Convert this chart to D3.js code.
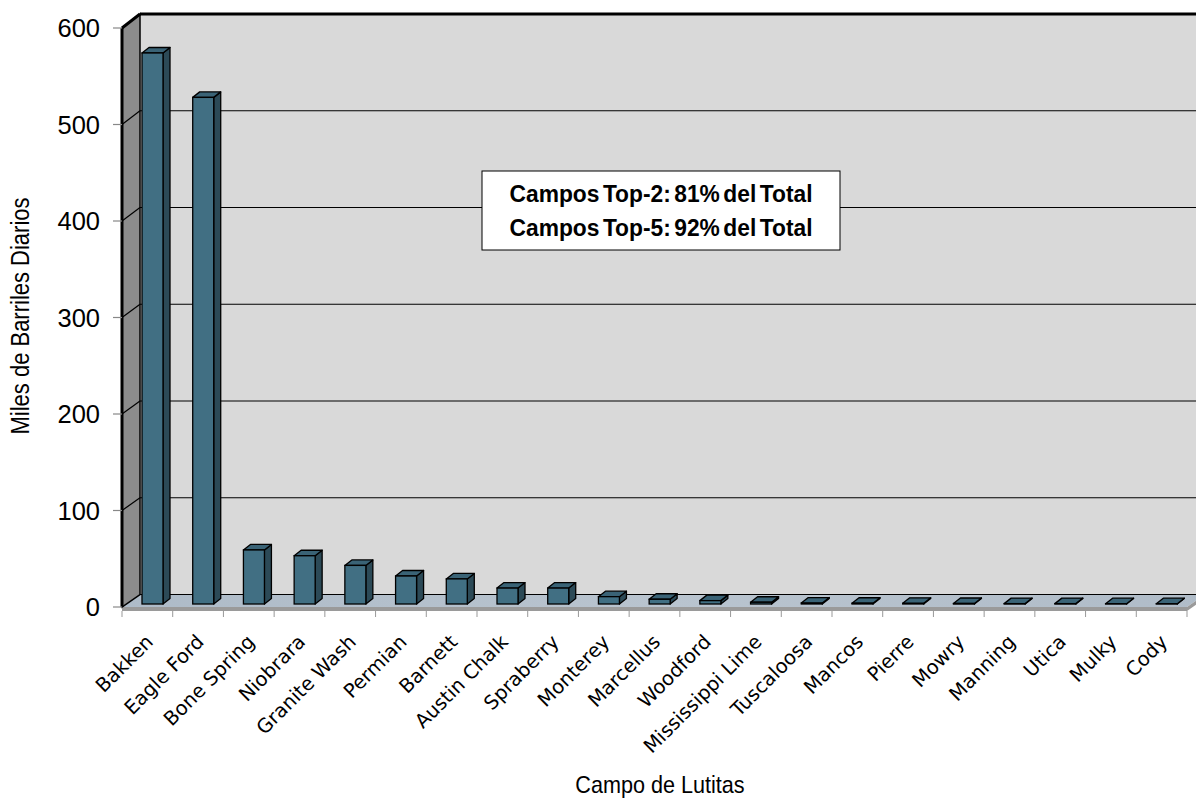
<!DOCTYPE html>
<html>
<head>
<meta charset="utf-8">
<script src="https://cdn.jsdelivr.net/npm/d3@7"></script>
<style>
  html, body { margin: 0; padding: 0; background: #fff; }
  svg { display: block; }
  .narrow { font-family: "Liberation Sans Narrow", "Arial Narrow", "Liberation Sans", sans-serif; }
</style>
</head>
<body>
<svg id="chart" width="1196" height="799"></svg>
<script>
// Shale oil fields, production in thousand barrels per day
const fields = ["Bakken", "Eagle Ford", "Bone Spring", "Niobrara", "Granite Wash", "Permian",
  "Barnett", "Austin Chalk", "Spraberry", "Monterey", "Marcellus", "Woodford",
  "Mississippi Lime", "Tuscaloosa", "Mancos", "Pierre", "Mowry", "Manning", "Utica", "Mulky", "Cody"];
const production = [571, 525, 56, 50, 40, 29, 26, 16.5, 16.5, 7.6, 4.9, 3.5,
  1.8, 1.0, 0.8, 0.7, 0.5, 0.4, 0.4, 0.3, 0.3];
const yTicks = [0, 100, 200, 300, 400, 500, 600];
const noteLines = ["Campos Top-2: 81% del Total", "Campos Top-5: 92% del Total"];
const yTitle = "Miles de Barriles Diarios";
const xTitle = "Campo de Lutitas";

const svg = d3.select("#chart");

// 3D box geometry: front plane and the depth offset of the back wall
const front = { left: 122, right: 1187, top: 28, bottom: 607 };
const depth = { dx: 18, dy: -12.5 };
const bar = { inset: 20, width: 21, dx: 7, dy: -5.5, base: 604 };

const x = d3.scaleBand().domain(fields).range([front.left, front.right]).padding(0);
const yFront = d3.scaleLinear().domain([0, 600]).range([front.bottom, front.top]);
const yBack = d3.scaleLinear().domain([0, 600]).range([front.bottom + depth.dy, 14]);
const yBar = d3.scaleLinear().domain([0, 600]).range([bar.base, bar.base - (front.bottom - front.top)]);

const backLeft = front.left + depth.dx;
const backRight = front.right + depth.dx;
const pts = a => a.map(p => p.join(",")).join(" ");

// back wall
svg.append("rect")
  .attr("x", backLeft).attr("y", yBack(600))
  .attr("width", backRight - backLeft).attr("height", yBack(0) - yBack(600))
  .attr("fill", "#d9d9d9");

// back wall gridlines
svg.append("g").selectAll("line").data(yTicks.filter(d => d > 0 && d < 600)).join("line")
  .attr("x1", backLeft).attr("x2", backRight)
  .attr("y1", d => yBack(d)).attr("y2", d => yBack(d))
  .attr("stroke", "#000").attr("stroke-width", 1.2);

// back wall top edge
svg.append("line")
  .attr("x1", backLeft).attr("x2", backRight)
  .attr("y1", yBack(600)).attr("y2", yBack(600))
  .attr("stroke", "#000").attr("stroke-width", 3);

// floor
const defs = svg.append("defs");
const grad = defs.append("linearGradient").attr("id", "floorGrad")
  .attr("x1", 0).attr("x2", 1).attr("y1", 0).attr("y2", 0);
grad.append("stop").attr("offset", "0%").attr("stop-color", "#aebbc8");
grad.append("stop").attr("offset", "50%").attr("stop-color", "#b9c4cf");
grad.append("stop").attr("offset", "100%").attr("stop-color", "#b0bcc8");
svg.append("polygon")
  .attr("points", pts([[front.left, front.bottom], [front.right, front.bottom],
    [backRight, yBack(0)], [backLeft, yBack(0)]]))
  .attr("fill", "url(#floorGrad)");
svg.append("line")
  .attr("x1", backLeft).attr("x2", backRight)
  .attr("y1", yBack(0)).attr("y2", yBack(0))
  .attr("stroke", "#000").attr("stroke-width", 1.2);
// floor front thickness
svg.append("polygon")
  .attr("points", pts([[front.left, front.bottom], [front.right, front.bottom],
    [backRight, yBack(0)], [backRight, yBack(0) + 4], [front.right, front.bottom + 4],
    [front.left, front.bottom + 4]]))
  .attr("fill", "#9a9a9a");

// x tick marks under the floor
svg.append("g").selectAll("line").data(d3.range(fields.length + 1)).join("line")
  .attr("x1", i => front.left + i * x.bandwidth()).attr("x2", i => front.left + i * x.bandwidth())
  .attr("y1", front.bottom + 4).attr("y2", front.bottom + 10)
  .attr("stroke", "#999").attr("stroke-width", 1);

// left side wall
svg.append("polygon")
  .attr("points", pts([[front.left, yFront(600)], [backLeft, yBack(600)],
    [backLeft, yBack(0)], [front.left, yFront(0)]]))
  .attr("fill", "#8c8c8c").attr("stroke", "#000").attr("stroke-width", 1.5);
svg.append("g").selectAll("line").data(yTicks.filter(d => d > 0 && d < 600)).join("line")
  .attr("x1", front.left).attr("x2", backLeft)
  .attr("y1", d => yFront(d)).attr("y2", d => yBack(d))
  .attr("stroke", "#000").attr("stroke-width", 1.2);
svg.append("line")
  .attr("x1", front.left).attr("x2", front.left)
  .attr("y1", yFront(600)).attr("y2", yFront(0))
  .attr("stroke", "#000").attr("stroke-width", 3);
svg.append("line")
  .attr("x1", front.left).attr("x2", backLeft)
  .attr("y1", yFront(600)).attr("y2", yBack(600))
  .attr("stroke", "#000").attr("stroke-width", 3);

// y axis ticks and labels
const yAxis = svg.append("g");
yAxis.selectAll("line").data(yTicks).join("line")
  .attr("x1", front.left - 9).attr("x2", front.left)
  .attr("y1", d => yFront(d)).attr("y2", d => yFront(d))
  .attr("stroke", "#888").attr("stroke-width", 1.2);
yAxis.selectAll("text").data(yTicks).join("text")
  .attr("x", 100).attr("y", d => yFront(d))
  .attr("text-anchor", "end").attr("dominant-baseline", "central")
  .attr("font-family", "Liberation Sans, Arial, sans-serif").attr("font-size", 25.5)
  .attr("fill", "#000")
  .text(d => d);

// bars as 3D boxes: side, top, front
const bars = svg.append("g").selectAll("g").data(fields.map((f, i) => ({ f, v: production[i] }))).join("g");
bars.each(function (d) {
  const g = d3.select(this);
  const x0 = x(d.f) + bar.inset, x1 = x0 + bar.width;
  const yt = yBar(d.v), yb = yBar(0);
  g.append("polygon")
    .attr("points", pts([[x1, yt], [x1 + bar.dx, yt + bar.dy], [x1 + bar.dx, yb + bar.dy], [x1, yb]]))
    .attr("fill", "#2c4a57").attr("stroke", "#000").attr("stroke-width", 1.3).attr("stroke-linejoin", "round");
  g.append("polygon")
    .attr("points", pts([[x0, yt], [x0 + bar.dx, yt + bar.dy], [x1 + bar.dx, yt + bar.dy], [x1, yt]]))
    .attr("fill", "#3a6376").attr("stroke", "#000").attr("stroke-width", 1.3).attr("stroke-linejoin", "round");
  g.append("rect")
    .attr("x", x0).attr("y", yt).attr("width", bar.width).attr("height", Math.max(0, yb - yt))
    .attr("fill", "#416f83").attr("stroke", "#000").attr("stroke-width", 1.3);
});

// category labels, rotated
svg.append("g").selectAll("text").data(fields).join("text")
  .attr("transform", d => `translate(${x(d) + x.bandwidth() / 2 + 7},${front.bottom + 36}) rotate(-45)`)
  .attr("text-anchor", "end")
  .attr("font-family", "DejaVu Sans, Verdana, sans-serif").attr("font-size", 19.5)
  .attr("fill", "#000")
  .text(d => d);

// axis titles
svg.append("text").attr("class", "narrow")
  .attr("transform", `translate(29,316) rotate(-90) scale(0.88,1)`)
  .attr("text-anchor", "middle").attr("font-size", 25)
  .text(yTitle);
svg.append("text").attr("class", "narrow")
  .attr("transform", `translate(660,793) scale(0.9,1)`)
  .attr("text-anchor", "middle").attr("font-size", 24)
  .text(xTitle);

// note box
const note = svg.append("g");
note.append("rect")
  .attr("x", 482).attr("y", 171).attr("width", 358).attr("height", 79)
  .attr("fill", "#fff").attr("stroke", "#000").attr("stroke-width", 1);
note.selectAll("text").data(noteLines).join("text").attr("class", "narrow")
  .attr("transform", (d, i) => `translate(661,${202 + i * 34}) scale(0.95,1)`)
  .attr("text-anchor", "middle")
  .attr("font-size", 24).attr("font-weight", "bold").attr("word-spacing", -3)
  .text(d => d);
</script>
</body>
</html>
